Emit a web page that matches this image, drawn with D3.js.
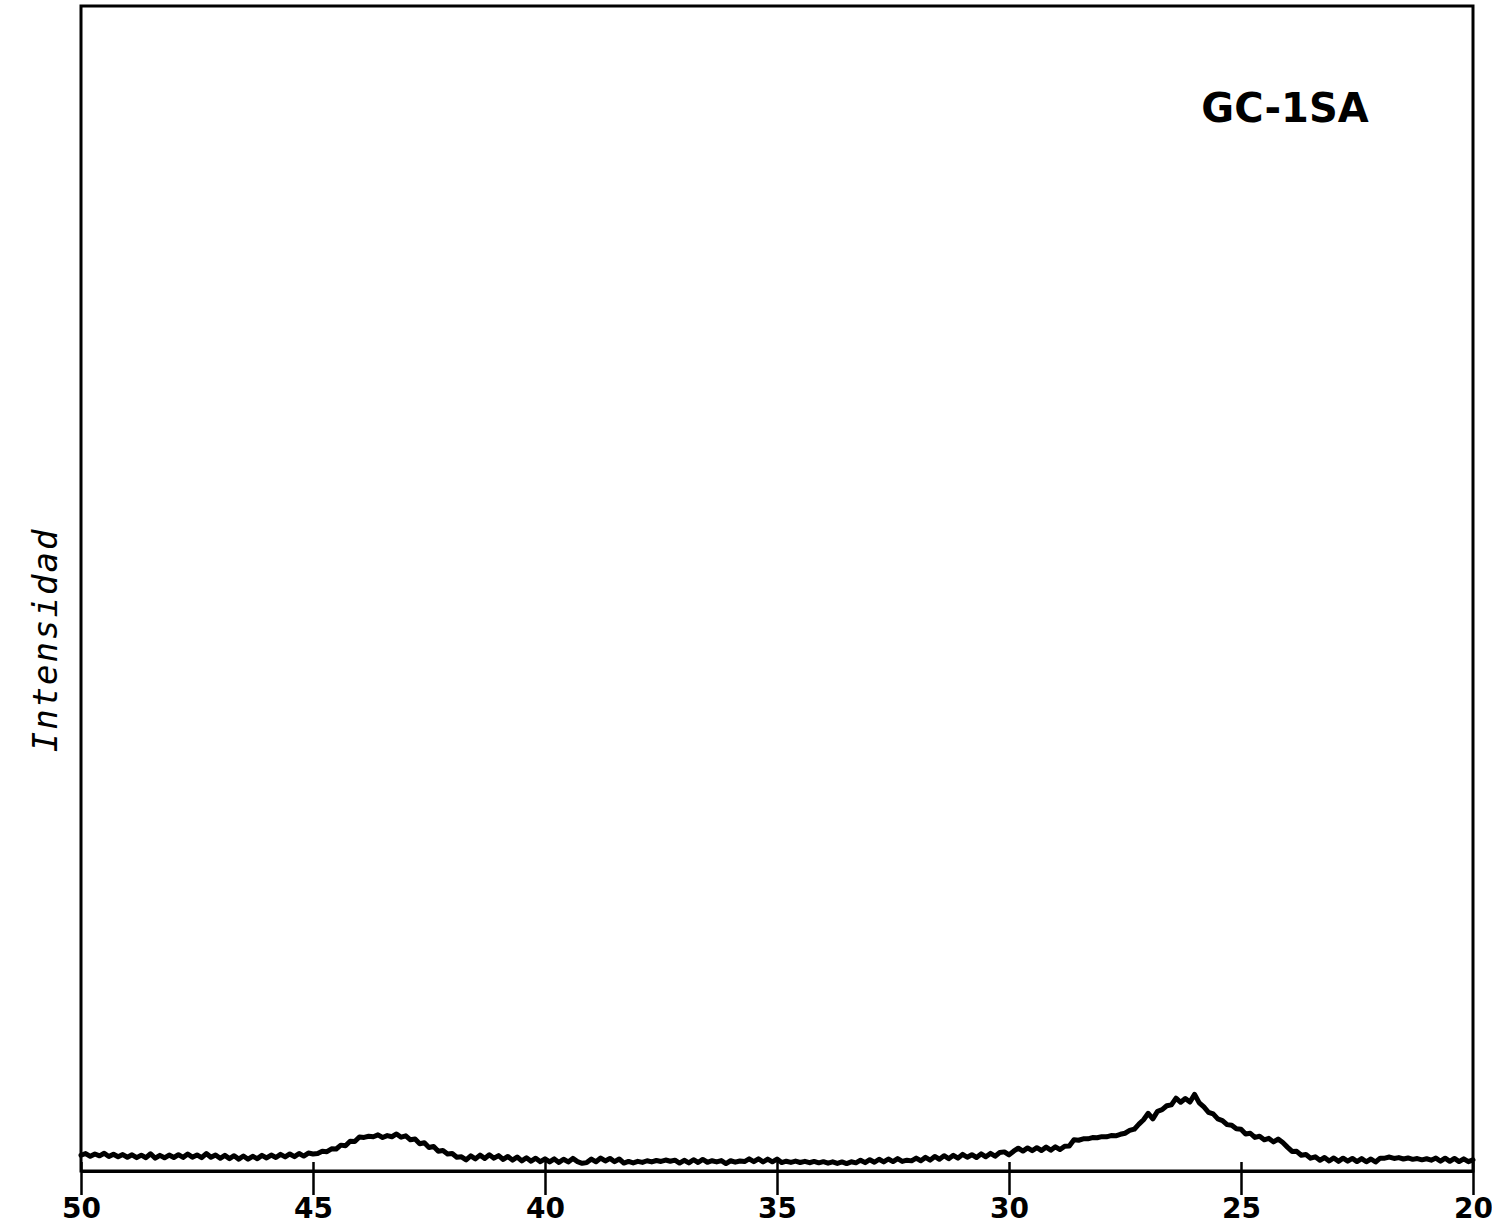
<!DOCTYPE html>
<html>
<head>
<meta charset="utf-8">
<script src="https://cdn.jsdelivr.net/npm/d3@7"></script>
<style>
  html, body { margin: 0; padding: 0; background: #fff; }
  svg { display: block; }
</style>
</head>
<body>
<svg id="chart" width="1492" height="1225"></svg>
<script>
// X-ray diffractogram of sample GC-1SA, scanned from 50° down to 20° (2θ), step 0.1°
const sampleName = "GC-1SA";
const yAxisTitle = "Intensidad";
const xTicks = [50, 45, 40, 35, 30, 25, 20];
const scanStart = 50.0;
const scanStep = 0.1;

// Intensity (arbitrary units) for each 5° stretch of the scan
const counts50to45 = [
  13.5, 15.0, 12.6, 14.6, 13.0, 15.2, 12.4, 14.4, 12.2, 14.1,
  11.8, 13.9, 11.5, 13.6, 11.4, 14.8, 11.0, 13.4, 11.3, 13.7,
  11.6, 14.0, 11.7, 14.6, 11.9, 13.8, 11.4, 15.0, 11.8, 13.8,
  10.9, 13.4, 10.6, 13.1, 10.2, 12.9, 10.1, 12.6, 10.6, 13.4,
  11.2, 13.7, 11.6, 14.3, 12.1, 14.6, 12.3, 15.0, 12.8, 15.4,
  14.6
];
const counts45to40 = [
  15.0, 17.0, 16.6, 19.0, 18.9, 22.2, 21.6, 25.5, 25.3, 29.2,
  28.8, 29.8, 29.4, 31.0, 28.8, 30.4, 29.4, 31.8, 29.0, 30.2,
  26.8, 27.4, 23.4, 24.2, 20.2, 21.0, 17.0, 17.6, 14.6, 15.0,
  11.8, 12.2, 9.6, 13.0, 10.4, 13.6, 10.8, 13.9, 11.0, 13.2,
  9.9, 12.5, 9.3, 12.0, 8.7, 11.4, 8.4, 11.0, 8.0, 10.4
];
const counts40to35 = [
  7.8, 10.4, 7.4, 10.1, 7.8, 10.8, 8.1, 6.6, 7.2, 10.2,
  7.9, 11.1, 8.6, 10.8, 8.0, 10.3, 6.8, 8.2, 6.9, 8.3,
  7.4, 8.8, 7.8, 9.0, 8.2, 9.4, 8.4, 9.3, 6.8, 9.2,
  7.0, 9.7, 7.3, 9.9, 7.5, 8.8, 7.8, 8.9, 6.4, 8.8,
  7.6, 8.6, 8.1, 10.4, 8.0, 10.5, 7.8, 10.2, 7.9, 10.2
];
const counts35to30 = [
  7.2, 8.4, 7.4, 8.5, 7.3, 8.3, 7.1, 8.2, 7.0, 8.0,
  6.7, 7.9, 6.5, 7.8, 6.4, 7.9, 7.0, 9.3, 7.2, 9.7,
  7.5, 10.1, 7.8, 10.3, 8.1, 10.7, 8.2, 9.3, 8.7, 11.1,
  8.8, 11.7, 9.3, 12.5, 10.1, 13.1, 10.6, 13.5, 11.0, 14.3,
  11.8, 14.0, 11.6, 14.7, 12.2, 15.1, 12.7, 15.8, 16.4, 13.8
];
const counts30to25 = [
  17.0, 19.6, 17.1, 19.8, 17.4, 20.0, 17.6, 20.5, 17.9, 20.8,
  18.4, 21.3, 21.5, 26.8, 26.4, 27.6, 27.6, 28.7, 28.5, 29.5,
  29.3, 30.4, 30.2, 31.5, 32.4, 34.8, 35.9, 40.2, 44.0, 49.5,
  44.8, 51.2, 52.6, 56.0, 56.8, 62.5, 59.0, 62.2, 59.2, 65.8,
  58.5, 55.0, 50.4, 49.0, 44.7, 43.3, 39.8, 39.2, 36.2, 35.8
];
const counts25to20 = [
  31.7, 32.4, 28.8, 29.8, 26.8, 28.0, 25.0, 27.4, 24.4, 20.5,
  16.8, 16.9, 13.5, 14.1, 11.0, 12.2, 9.2, 11.6, 8.6, 11.2,
  8.3, 11.0, 8.4, 10.8, 8.1, 10.6, 7.9, 10.3, 7.7, 11.0,
  11.0, 12.0, 10.8, 11.5, 10.3, 11.2, 10.0, 10.7, 9.6, 10.5,
  9.3, 11.1, 8.4, 11.0, 8.3, 10.8, 8.1, 10.4, 8.0, 9.6
];

const intensity = [].concat(
  counts50to45, counts45to40, counts40to35,
  counts35to30, counts30to25, counts25to20
);
const scan = intensity.map((v, i) => ({
  angle: +(scanStart - i * scanStep).toFixed(1),
  value: v
}));

// Plot frame
const frame = { left: 81, right: 1473, top: 6, bottom: 1171 };

const svg = d3.select("#chart");

const x = d3.scaleLinear()
  .domain([50, 20])
  .range([frame.left, frame.right]);

const y = d3.scaleLinear()
  .domain([0, 1000])
  .range([frame.bottom, frame.top]);

// Outer box
svg.append("rect")
  .attr("x", frame.left)
  .attr("y", frame.top)
  .attr("width", frame.right - frame.left)
  .attr("height", frame.bottom - frame.top)
  .attr("fill", "none")
  .attr("stroke", "#000")
  .attr("stroke-width", 3);

// Bottom 2θ axis, ticks crossing the baseline
const xAxis = d3.axisBottom(x)
  .tickValues(xTicks)
  .tickFormat(d3.format("d"))
  .tickSizeInner(24)
  .tickSizeOuter(0)
  .tickPadding(3);

const gx = svg.append("g")
  .attr("transform", `translate(0,${frame.bottom})`)
  .call(xAxis);

gx.select(".domain")
  .attr("stroke", "#000")
  .attr("stroke-width", 3);

gx.selectAll(".tick line")
  .attr("y1", -9)
  .attr("stroke", "#000")
  .attr("stroke-width", 2.5);

gx.selectAll(".tick text")
  .attr("fill", "#000")
  .style("font-family", "'DejaVu Sans', sans-serif")
  .style("font-weight", "bold")
  .style("font-size", "28px");

// Diffraction trace
const line = d3.line()
  .x(d => x(d.angle))
  .y(d => y(d.value))
  .curve(d3.curveLinear);

svg.append("path")
  .datum(scan)
  .attr("d", line)
  .attr("fill", "none")
  .attr("stroke", "#000")
  .attr("stroke-width", 5)
  .attr("stroke-linejoin", "round")
  .attr("stroke-linecap", "round");

// Sample label
svg.append("text")
  .attr("x", 1285)
  .attr("y", 122)
  .attr("text-anchor", "middle")
  .style("font-family", "'DejaVu Sans', sans-serif")
  .style("font-weight", "bold")
  .style("font-size", "40px")
  .text(sampleName);

// Vertical axis title
svg.append("text")
  .attr("transform", "translate(57,640) rotate(-90)")
  .attr("text-anchor", "middle")
  .style("font-family", "'DejaVu Sans Mono', monospace")
  .style("font-style", "italic")
  .style("font-size", "34px")
  .style("letter-spacing", "2px")
  .text(yAxisTitle);
</script>
</body>
</html>
